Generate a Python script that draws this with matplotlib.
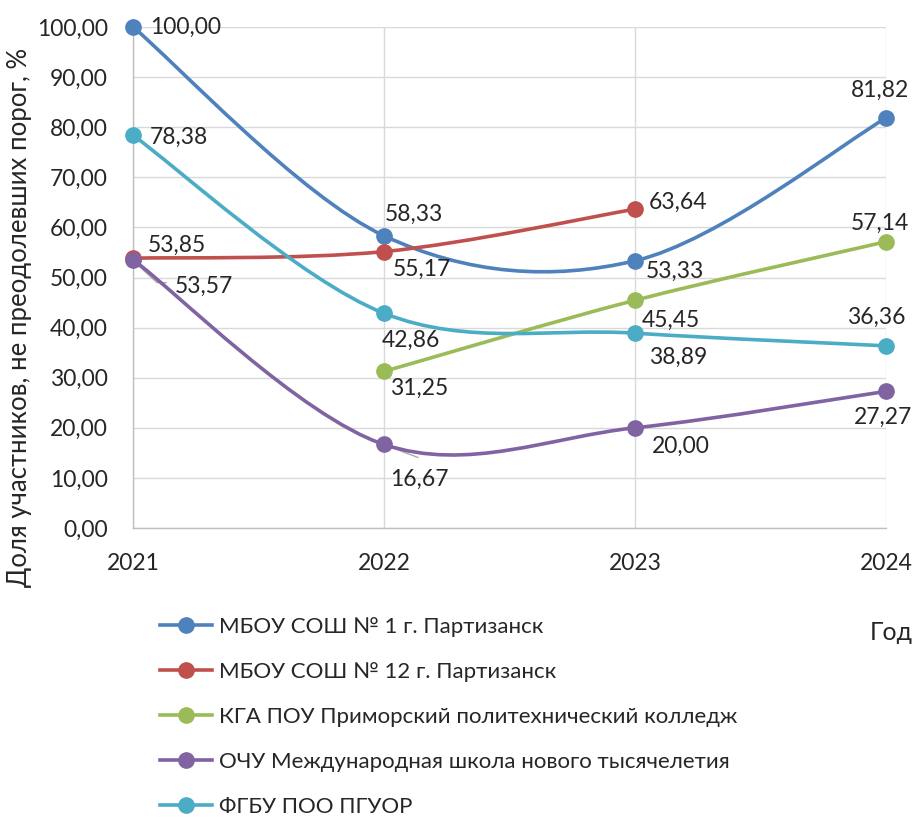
import numpy as np
import matplotlib
matplotlib.use("Agg")
import matplotlib.pyplot as plt
from matplotlib.path import Path
from matplotlib.patches import PathPatch
from matplotlib.lines import Line2D

plt.rcParams['font.family'] = ['Lato', 'DejaVu Sans']

years = [2021, 2022, 2023, 2024]
series_names = [
    "МБОУ СОШ № 1 г. Партизанск",
    "МБОУ СОШ № 12 г. Партизанск",
    "КГА ПОУ Приморский политехнический колледж",
    "ОЧУ Международная школа нового тысячелетия",
    "ФГБУ ПОО ПГУОР",
]
school1 = [100.00, 58.33, 53.33, 81.82]
school12 = [53.85, 55.17, 63.64, None]
college = [None, 31.25, 45.45, 57.14]
intl_school = [53.57, 16.67, 20.00, 27.27]
pguor = [78.38, 42.86, 38.89, 36.36]
all_series = [school1, school12, college, intl_school, pguor]

colors = ["#4F81BD", "#C0504D", "#9BBB59", "#8064A2", "#4BACC6"]

# label placement: (dx to left edge, dy to centre) in pixels, y upwards
label_offsets = [
    [(17, 0), (1, 21), (11, -11), (-35, 28)],
    [(15, 13), (9, -18), (14, 7), None],
    [None, (6, -17), (7, -20), (-35, 18)],
    [(42, -27), (6, -35), (17, -19), (-32, -26)],
    [(17, -2), (-2, -27), (14, -24), (-39, 28)],
]

W, H = 917, 822
fig = plt.figure(figsize=(W / 100, H / 100), dpi=100)
ax = fig.add_axes([133 / W, 1 - 528 / H, (886 - 133) / W, (528 - 27) / H])
ax.set_xlim(2021, 2024)
ax.set_ylim(0, 100)

TXT = '#262626'
FS = 16.5


def smooth_path(xs, ys):
    """Cubic Bezier through the points with Catmull-Rom style tangents."""
    pts = np.column_stack([xs, ys])
    n = len(pts)
    verts = [pts[0]]
    codes = [Path.MOVETO]
    for i in range(n - 1):
        p0 = pts[i - 1] if i > 0 else pts[i]
        p1 = pts[i]
        p2 = pts[i + 1]
        p3 = pts[i + 2] if i + 2 < n else pts[i + 1]
        c1 = p1 + (p2 - p0) / 6.0
        c2 = p2 - (p3 - p1) / 6.0
        verts += [c1, c2, p2]
        codes += [Path.CURVE4] * 3
    return Path(verts, codes)


for vals, col, offs in zip(all_series, colors, label_offsets):
    xs = [y for y, v in zip(years, vals) if v is not None]
    ys = [v for v in vals if v is not None]
    path = smooth_path(np.array(xs, float), np.array(ys, float))
    ax.add_patch(PathPatch(path, fill=False, edgecolor=col, lw=2.6,
                           capstyle='round', joinstyle='round', zorder=3,
                           clip_on=False))
    ax.plot(xs, ys, linestyle='none', marker='o', markersize=11, color=col,
            zorder=4, clip_on=False)
    for yr, v, off in zip(years, vals, offs):
        if v is None or off is None:
            continue
        txt = f"{v:.2f}".replace('.', ',')
        ax.annotate(txt, (yr, v), xytext=off, textcoords='offset pixels',
                    ha='left', va='center', fontsize=FS, color=TXT, zorder=5,
                    annotation_clip=False)


def leader(x, y, pts_px):
    base = ax.transData.transform((x, y))
    xs = [base[0] + dx for dx, dy in pts_px]
    ys = [base[1] + dy for dx, dy in pts_px]
    ax.add_line(Line2D(xs, ys, transform=None, color='#A6A6A6', lw=0.9,
                       zorder=2.5, clip_on=False))


# leader lines for labels moved away from their points
leader(2021, 53.57, [(2, -3), (24, -23), (33, -23)])
leader(2022, 16.67, [(2, -1), (34, -13)])

ax.set_yticks(np.arange(0, 101, 10))
ax.set_yticklabels([f"{t:.2f}".replace('.', ',') for t in np.arange(0, 101, 10)])
ax.set_xticks(years)
ax.set_xticklabels([str(y) for y in years])
ax.tick_params(axis='both', length=0, labelsize=FS, colors=TXT)
ax.tick_params(axis='y', pad=18)
ax.tick_params(axis='x', pad=18)
ax.grid(True, color='#D9D9D9', lw=1)
ax.set_axisbelow(True)
for s in ['top', 'right']:
    ax.spines[s].set_visible(False)
for s in ['left', 'bottom']:
    ax.spines[s].set_color('#BFBFBF')
    ax.spines[s].set_linewidth(1)

fig.text(20 / W, 1 - 317 / H, "Доля участников, не преодолевших порог, %",
         rotation=90, ha='center', va='center', fontsize=18.5, color=TXT)
fig.text(913 / W, 1 - 632 / H, "Год", ha='right', va='center', fontsize=18,
         color=TXT)

handles = [Line2D([], [], color=c, lw=2.6, marker='o', markersize=11)
           for c in colors]
fig.legend(handles, series_names, loc='upper left',
           bbox_to_anchor=(160 / W, 1 - 617 / H), frameon=False, fontsize=16,
           handlelength=2.35, handletextpad=0.3, labelspacing=1.12,
           labelcolor=TXT, borderaxespad=0, borderpad=0)

fig.savefig("out.png", dpi=100)
